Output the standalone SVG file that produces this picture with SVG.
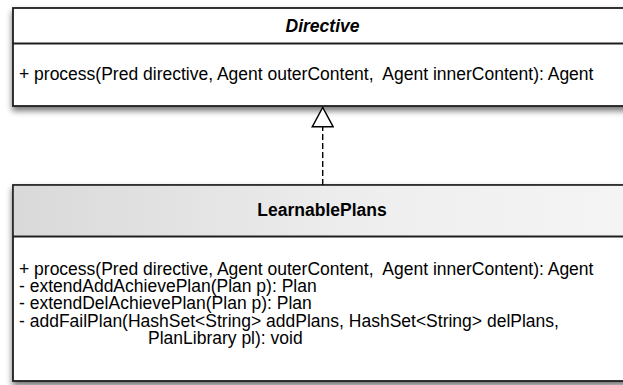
<svg xmlns="http://www.w3.org/2000/svg" width="623" height="385" viewBox="0 0 623 385">
  <defs>
    <filter id="shadow" x="-10%" y="-20%" width="120%" height="150%">
      <feGaussianBlur in="SourceAlpha" stdDeviation="3"/>
      <feOffset dx="0" dy="4" result="b"/>
      <feComponentTransfer><feFuncA type="linear" slope="0.55"/></feComponentTransfer>
      <feMerge><feMergeNode/><feMergeNode in="SourceGraphic"/></feMerge>
    </filter>
    <linearGradient id="headGrad" x1="0" y1="0" x2="1" y2="0">
      <stop offset="0" stop-color="#d9d9d9"/>
      <stop offset="0.6" stop-color="#efefef"/>
      <stop offset="1" stop-color="#f4f4f4"/>
    </linearGradient>
    <!-- hollow triangle of a realization arrow, pointing along the line -->
    <marker id="realize" markerWidth="22" markerHeight="23" refX="20.5" refY="11.5" orient="auto" markerUnits="userSpaceOnUse" viewBox="0 0 22 23">
      <path d="M1.2,1 L20.5,11.5 L1.2,22 Z" fill="#fff" stroke="#000" stroke-width="1.4" stroke-linejoin="miter"/>
    </marker>
    <style>
      .box { fill: #fff; stroke: #1e1e1e; stroke-width: 1.8; }
      .sep { stroke: #1e1e1e; stroke-width: 1.8; }
      text { font-family: "Liberation Sans", Arial, Helvetica, sans-serif; font-size: 17.5px; fill: #000; white-space: pre; }
      .title { font-weight: bold; text-anchor: middle; }
      .edge { stroke: #000; stroke-width: 1.4; fill: none; stroke-dasharray: 6 3; }
    </style>
  </defs>

  <!-- interface Directive -->
  <g id="directive">
    <g filter="url(#shadow)">
      <rect class="box" x="13" y="8" width="620" height="98"/>
    </g>
    <line class="sep" x1="13" y1="43.5" x2="633" y2="43.5"/>
    <text class="title" x="322.5" y="31.5" font-style="italic">Directive</text>
    <text x="19" y="80" xml:space="preserve">+ process(Pred directive, Agent outerContent,  Agent innerContent): Agent</text>
  </g>

  <!-- class LearnablePlans -->
  <g id="learnablePlans">
    <g filter="url(#shadow)">
      <rect class="box" x="13" y="185" width="620" height="196"/>
    </g>
    <rect x="13.9" y="185.9" width="619" height="49.7" fill="url(#headGrad)"/>
    <line class="sep" x1="13" y1="236.5" x2="633" y2="236.5"/>
    <text class="title" x="322" y="216">LearnablePlans</text>
    <!-- operations compartment -->
    <text xml:space="preserve"><tspan x="19" y="274.5">+ process(Pred directive, Agent outerContent,  Agent innerContent): Agent</tspan><tspan x="19" y="291.9">- extendAddAchievePlan(Plan p): Plan</tspan><tspan x="19" y="309.3">- extendDelAchievePlan(Plan p): Plan</tspan><tspan x="19" y="326.7">- addFailPlan(HashSet&lt;String&gt; addPlans, HashSet&lt;String&gt; delPlans,</tspan><tspan x="148" y="344.1">PlanLibrary pl): void</tspan></text>
  </g>

  <!-- realization: LearnablePlans implements Directive -->
  <g id="connectors">
    <line class="edge" x1="322.7" y1="185" x2="322.7" y2="107.5" marker-end="url(#realize)"/>
  </g>
</svg>
